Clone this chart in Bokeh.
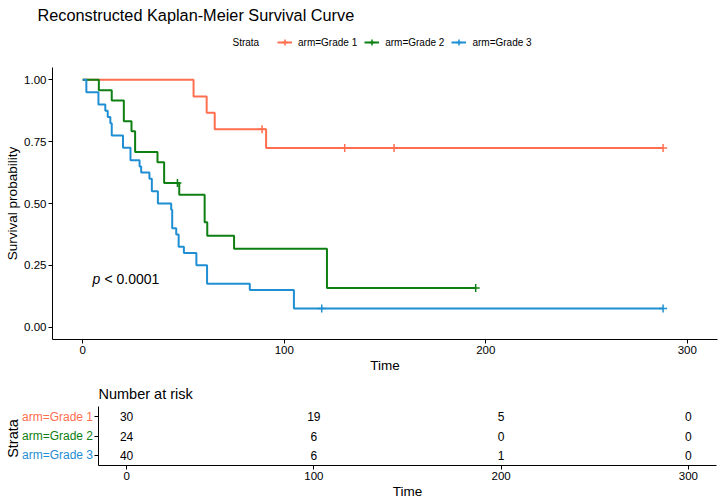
import math
from bokeh.plotting import figure
from bokeh.models import (Range1d, FixedTicker, Label, Legend, LegendItem,
                          ColumnDataSource, NumeralTickFormatter)
from bokeh.layouts import row
from bokeh.embed import file_html
from bokeh.resources import INLINE
from bokeh.core.properties import value

FONT = "Liberation Sans"

# ---------------- data ----------------
arms = ["arm=Grade 1", "arm=Grade 2", "arm=Grade 3"]
colors = ["#FF6E4F", "#0E7F12", "#1F8ED2"]

g1_time = [0, 55, 61.5, 65.5, 91, 288]
g1_surv = [1.0, 0.933, 0.867, 0.800, 0.724, 0.724]
g1_cens_time = [89, 130, 154.5, 288]
g1_cens_surv = [0.800, 0.724, 0.724, 0.724]

g2_time = [0, 8, 14.4, 20.4, 24.2, 26, 37.1, 40.4, 47.9, 60.5, 61.8, 75.1, 121.2, 195]
g2_surv = [1.0, 0.958, 0.917, 0.833, 0.792, 0.708, 0.667, 0.583, 0.535, 0.424,
           0.370, 0.317, 0.158, 0.158]
g2_cens_time = [47, 195]
g2_cens_surv = [0.583, 0.158]

g3_time = [0, 1.8, 7.8, 11.2, 12.4, 13.7, 14.4, 20.0, 23.7, 28.2, 29.0, 33.1, 34.3,
           37.3, 43.9, 44.4, 46.4, 47.6, 50.2, 56.4, 61.7, 82.9, 104.8, 288]
g3_surv = [1.0, 0.95, 0.90, 0.875, 0.85, 0.825, 0.775, 0.725, 0.675, 0.65, 0.625,
           0.60, 0.55, 0.50, 0.475, 0.40, 0.375, 0.325, 0.30, 0.25, 0.175, 0.15,
           0.075, 0.075]
g3_cens_time = [118.6, 288]
g3_cens_surv = [0.075, 0.075]

x_ticks = [0, 100, 200, 300]
y_ticks = [0, 0.25, 0.5, 0.75, 1.0]

risk_times = [0, 100, 200, 300]
risk_g1 = [30, 19, 5, 0]
risk_g2 = [24, 6, 0, 0]
risk_g3 = [40, 6, 1, 0]

title_text = "Reconstructed Kaplan-Meier Survival Curve"
legend_title = "Strata"
pval_text = "< 0.0001"

# ---------------- layout constants (page pixels) ----------------
W = 725
HH = 67                      # header height
H1 = 313                     # main plot height (page y 67..380)
H2 = 124                     # risk table height (page y 380..504)
FL, FR, FB = 52, 717, 339    # main frame left/right/bottom
LW = 93                      # width of the table's label strip
TL, TR, TT, TB = 98, 716, 406, 465
TXT = "#000000"

series = [
    (g1_time, g1_surv, g1_cens_time, g1_cens_surv),
    (g2_time, g2_surv, g2_cens_time, g2_cens_surv),
    (g3_time, g3_surv, g3_cens_time, g3_cens_surv),
]


def style_axes(fig):
    for ax in (fig.xaxis[0], fig.yaxis[0]):
        ax.axis_line_color = "#000000"
        ax.axis_line_width = 1
        ax.major_tick_line_color = "#000000"
        ax.major_tick_out = 4
        ax.major_tick_in = 0
        ax.minor_tick_line_color = None
        ax.major_label_text_font = FONT
        ax.major_label_text_font_size = "11.5px"
        ax.major_label_text_color = TXT
        ax.major_label_standoff = 2
        ax.axis_label_text_font = FONT
        ax.axis_label_text_font_style = "normal"
        ax.axis_label_text_color = TXT
    fig.xgrid.grid_line_color = None
    fig.ygrid.grid_line_color = None
    fig.outline_line_color = None


# ---------------- header: title + legend ----------------
# the header's y range sits far above all survival values, so the series drawn
# here only feed the legend keys and stay out of view
h = figure(width=W, height=HH, x_range=Range1d(0, W), y_range=Range1d(40, 40 + HH),
           x_axis_type=None, y_axis_type=None, output_backend="svg",
           toolbar_location=None, title=None, min_border=0)
h.outline_line_color = None
h.add_layout(Label(x=37, y=HH - 14, x_units="screen", y_units="screen",
                   text=title_text, text_font=FONT, text_font_size="16.3px",
                   text_color=TXT, text_baseline="middle", text_align="left"))
h.add_layout(Label(x=232, y=HH - 42, x_units="screen", y_units="screen",
                   text=legend_title, text_font=FONT, text_font_size="10px",
                   text_color=TXT, text_baseline="middle", text_align="left"))
items = []
for (t, s, ct, cs), col, name in zip(series, colors, arms):
    lr = h.step(x=t, y=s, mode="after", line_color=col, line_width=2)
    cr = h.scatter(x=ct, y=cs, marker="cross", size=8, line_color=col, line_width=1.5)
    items.append(LegendItem(label=name, renderers=[lr, cr]))
leg = Legend(items=items, location=(277, HH - 42 - 10), orientation="horizontal",
             glyph_width=15, glyph_height=20, label_height=20, label_standoff=6,
             spacing=7, padding=0, margin=0, border_line_alpha=0,
             background_fill_alpha=0, label_text_font=FONT,
             label_text_font_size="10px", label_text_color=TXT)
h.add_layout(leg, "center")

# ---------------- main plot ----------------
p = figure(width=W, height=H1, x_range=Range1d(-15, 315), y_range=Range1d(-0.05, 1.05),
           output_backend="svg", toolbar_location=None, title=None,
           min_border_left=FL, min_border_right=W - FR,
           min_border_top=0, min_border_bottom=HH + H1 - FB)
style_axes(p)
p.xaxis.ticker = FixedTicker(ticks=x_ticks)
p.yaxis.ticker = FixedTicker(ticks=y_ticks)
p.yaxis.formatter = NumeralTickFormatter(format="0.00")
p.xaxis.axis_label = "Time"
p.yaxis.axis_label = "Survival probability"
p.xaxis.axis_label_text_font_size = "13.5px"
p.yaxis.axis_label_text_font_size = "13.5px"
p.xaxis.axis_label_standoff = 1
p.yaxis.axis_label_standoff = 1

for (t, s, ct, cs), col in zip(series, colors):
    p.step(x=t, y=s, mode="after", line_color=col, line_width=2)
    p.scatter(x=ct, y=cs, marker="cross", size=8, line_color=col, line_width=1.5)

p.add_layout(Label(x=92 - FL, y=FB - 278, x_units="screen", y_units="screen",
                   text="p", text_font=FONT, text_font_size="14px",
                   text_font_style="italic", text_color=TXT, text_baseline="middle"))
p.add_layout(Label(x=104 - FL, y=FB - 278, x_units="screen", y_units="screen",
                   text=pval_text, text_font=FONT, text_font_size="14px",
                   text_color=TXT, text_baseline="middle"))

# ---------------- risk table ----------------
yr = (0.45, 3.55)
lf = figure(width=LW, height=H2, x_range=Range1d(0, LW), y_range=Range1d(*yr),
            x_axis_type=None, y_axis_type=None, output_backend="svg",
            toolbar_location=None, title=None, min_border_left=0, min_border_right=0,
            min_border_top=TT - HH - H1, min_border_bottom=HH + H1 + H2 - TB)
lf.outline_line_color = None
for name, col, r in zip(arms, colors, [3, 2, 1]):
    lf.add_layout(Label(x=92.5, y=r, x_units="screen", y_units="data", text=name,
                        text_font=FONT, text_font_size="12px", text_color=col,
                        text_align="right", text_baseline="middle"))
lf.add_layout(Label(x=12, y=TB - 438, x_units="screen", y_units="screen",
                    text=legend_title, text_font=FONT, text_font_size="14.5px",
                    text_color=TXT, text_align="center", text_baseline="middle",
                    angle=math.pi / 2))

q = figure(width=W - LW, height=H2, x_range=Range1d(-15, 315), y_range=Range1d(*yr),
           output_backend="svg", toolbar_location=None, title="Number at risk",
           min_border_left=TL - LW, min_border_right=W - TR,
           min_border_top=TT - HH - H1, min_border_bottom=HH + H1 + H2 - TB)
style_axes(q)
q.title.text_font = FONT
q.title.text_font_size = "14.5px"
q.title.text_font_style = "normal"
q.title.text_color = TXT
q.title.align = "left"
q.title.vertical_align = "middle"
q.title.standoff = 7
q.xaxis.ticker = FixedTicker(ticks=x_ticks)
q.yaxis.ticker = FixedTicker(ticks=[1, 2, 3])
q.yaxis.major_label_overrides = {1: "", 2: "", 3: ""}
q.yaxis.major_label_standoff = 0
q.xaxis.axis_label = "Time"
q.xaxis.axis_label_text_font_size = "13.5px"
q.xaxis.axis_label_standoff = 1

for vals, r in zip([risk_g1, risk_g2, risk_g3], [3, 2, 1]):
    src = ColumnDataSource(dict(x=risk_times, y=[r] * len(risk_times),
                                t=[str(v) for v in vals]))
    q.text(x="x", y="y", text="t", source=src, text_font=value(FONT),
           text_font_size="12px", text_align="center", text_baseline="middle",
           text_color=TXT)

table = row(lf, q, spacing=0)
open("out.html", "w").write(file_html([h, p, table], INLINE))
